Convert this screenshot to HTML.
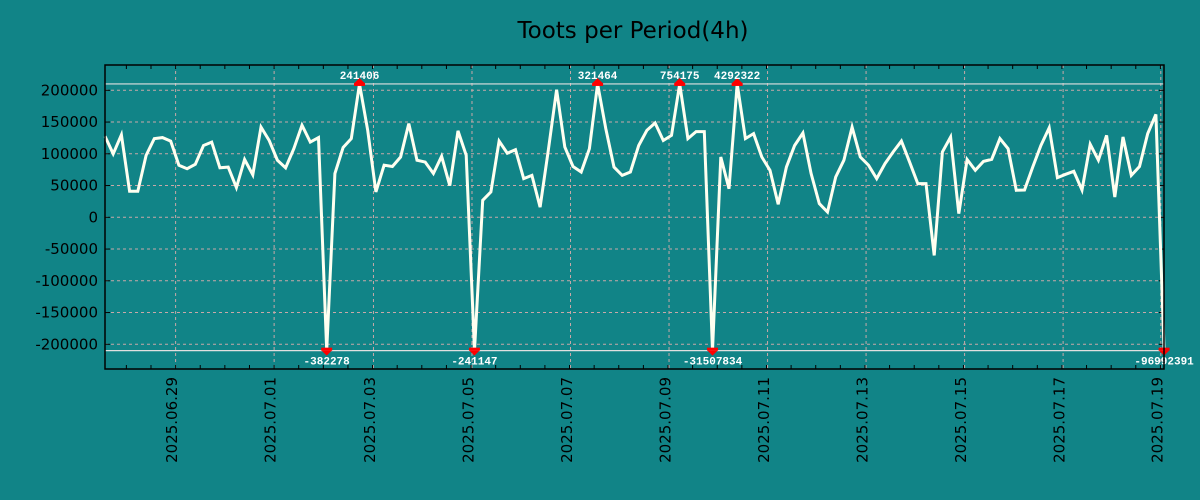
<!DOCTYPE html>
<html><head><meta charset="utf-8"><style>
html,body{margin:0;padding:0;background:#118487;}
svg{display:block;font-family:"DejaVu Sans","Liberation Sans",sans-serif;}
</style></head><body>
<svg id="chart" width="1200" height="500" viewBox="0 0 1200 500" xmlns="http://www.w3.org/2000/svg">
<rect x="0" y="0" width="1200" height="500" fill="#118487"/>
<text x="633" y="38" font-size="23" text-anchor="middle" fill="#000">Toots per Period(4h)</text>
<g id="grid"></g>
<g id="axes"></g>
<g id="series"></g>
<g id="markers"></g>
<rect x="105" y="65" width="1059" height="304" fill="none" stroke="#000" stroke-width="1.5"/>
</svg>
<script>
const yTicks = [200000,150000,100000,50000,0,-50000,-100000,-150000,-200000];
const xTickLabels = ["2025.06.29","2025.07.01","2025.07.03","2025.07.05","2025.07.07","2025.07.09","2025.07.11","2025.07.13","2025.07.15","2025.07.17","2025.07.19"];
const xTickIndex = [8.6,20.6,32.7,44.7,56.7,68.7,80.7,92.7,104.7,116.7,128.6];
const values = [127500,100000,130000,41000,41000,97500,124000,125500,120000,82000,76500,83500,113000,118500,78000,79000,47000,91000,67000,142000,121000,90000,78000,108000,145000,118500,125500,-382278,69000,110000,124000,241406,137000,40000,82000,80000,95000,147500,90000,87000,69000,96000,50000,136000,97600,-241147,26800,40000,120000,101000,106500,61000,66000,16000,105500,201000,110700,80000,71400,108000,321464,139600,79000,66000,71400,113000,137000,148500,121000,129000,754175,124000,135000,135000,-31507834,95000,45000,4292322,124000,131800,95000,74000,20500,79000,113000,132800,69000,21500,8400,63500,90000,142000,95000,82000,61000,84500,103000,120000,87000,53000,53000,-60000,103000,126500,5800,91000,74000,88000,91300,124000,108000,42500,43000,79000,113000,141000,62500,67700,72400,43000,115000,90000,129000,32000,126500,66000,80000,131800,162000,-96992391];
const clipMax = 210000, clipMin = -210000;

const NS = "http://www.w3.org/2000/svg";
const X0 = 105, X1 = 1164, Y0 = 65, Y1 = 369;
const step = 8.21;
function xs(i){ return X0 + i*step; }
function ys(v){ return 217.3 - v*31.75/50000; }
function mk(tag, attrs, parent){
  const e = document.createElementNS(NS, tag);
  for (const k in attrs) e.setAttribute(k, attrs[k]);
  parent.appendChild(e); return e;
}
const grid = document.getElementById('grid');
const axes = document.getElementById('axes');
const series = document.getElementById('series');
const markers = document.getElementById('markers');

yTicks.forEach(v => {
  const y = ys(v);
  const g = mk('line', {x1:X0, x2:X1, y1:y, y2:y, stroke:'#c8a8a8', 'stroke-width':1, 'stroke-dasharray':'3,3'}, grid);
  
  
  mk('line', {x1:X0, x2:X0+5, y1:y, y2:y, stroke:'#000'}, axes);
  mk('line', {x1:X1-5, x2:X1, y1:y, y2:y, stroke:'#000'}, axes);
  const t = mk('text', {x:98, y:y+5, 'font-size':15, 'text-anchor':'end', fill:'#000'}, axes);
  
  
  t.textContent = String(v);
});
for (let k = -1; k < 46; k++) {
  const x = xs(xTickIndex[0]) + (k-1)*24.62;
  if (x < X0 || x > X1) continue;
  mk('line', {x1:x, x2:x, y1:Y1, y2:Y1-4, stroke:'#000'}, axes);
  mk('line', {x1:x, x2:x, y1:Y0, y2:Y0+4, stroke:'#000'}, axes);
}
xTickLabels.forEach((lab, j) => {
  const x = xs(xTickIndex[j]);
  const g = mk('line', {x1:x, x2:x, y1:Y0, y2:Y1, stroke:'#c8a8a8', 'stroke-width':1, 'stroke-dasharray':'3,3'}, grid);
  
  
  const t = mk('text', {x:0, y:0, 'font-size':15, 'text-anchor':'end', fill:'#000', transform:'translate(' + (x+1.5) + ',377) rotate(-90)'}, axes);
  
  
  t.textContent = lab;
});
// clip lines
[clipMax, clipMin].forEach(v => {
  const l = mk('line', {x1:X0, x2:X1, y1:ys(v), y2:ys(v), stroke:'#e0e0e0', 'stroke-width':1.2}, grid);
  
  
});
// series
const pts = values.map((v,i) => xs(i).toFixed(1) + ',' + ys(Math.max(clipMin, Math.min(clipMax, v))).toFixed(1));
const pl = mk('polyline', {points:pts.join(' '), fill:'none', stroke:'#fffff0', 'stroke-width':3, 'stroke-linejoin':'miter'}, series);


// out-of-range markers
values.forEach((v,i) => {
  if (v <= clipMax && v >= clipMin) return;
  const x = xs(i);
  const g = mk('g', {}, markers);
  
  
  if (v > clipMax) {
    const y = ys(clipMax);
    mk('polygon', {points:(x-5)+','+(y-1)+' '+(x+5)+','+(y-1)+' '+x+','+(y-6), fill:'#f00'}, g);
    mk('rect', {x:x-5.5, y:y-1, width:11, height:3, fill:'#f00'}, g);
    const t = mk('text', {x:x, y:y-5, 'font-size':11, 'font-weight':'bold', 'text-anchor':'middle', fill:'#fff', 'font-family':'"Liberation Mono","DejaVu Sans Mono",monospace'}, g);
    t.textContent = String(v);
  } else {
    const y = ys(clipMin);
    mk('rect', {x:x-5.5, y:y-3, width:11, height:3, fill:'#f00'}, g);
    mk('polygon', {points:(x-5)+','+y+' '+(x+5)+','+y+' '+x+','+(y+5), fill:'#f00'}, g);
    const t = mk('text', {x:x, y:y+14, 'font-size':11, 'font-weight':'bold', 'text-anchor':'middle', fill:'#fff', 'font-family':'"Liberation Mono","DejaVu Sans Mono",monospace'}, g);
    t.textContent = String(v);
  }
});
</script>
</body></html>
